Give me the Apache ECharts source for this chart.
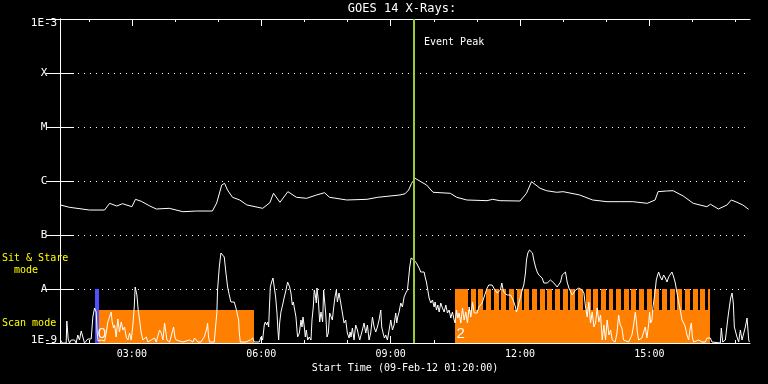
<!DOCTYPE html>
<html>
<head>
<meta charset="utf-8">
<script src="https://cdn.jsdelivr.net/npm/echarts@6/dist/echarts.min.js"></script>
<style>html,body{margin:0;padding:0;background:#000}#c{width:768px;height:384px}</style>
</head>
<body>
<div id="c"></div>
<script>
// ---- time axis: minutes after the start time 01:20:00 on 09-Feb-12 ----
const startClockMinutes = 80;            // 01:20
const xMaxMinutes = 960;                 // 16 hours shown
const hourTicks = [40,100,160,220,280,340,400,460,520,580,640,700,760,820,880,940];
const majorTicks = [100,280,460,640,820];  // 03:00 06:00 09:00 12:00 15:00

// ---- y axis (log flux, W/m^2) ----
const yExponents = [-9,-8,-7,-6,-5,-4,-3];
const yLabelText = ['1E-9','A','B','C','M','X','1E-3'];

// ---- GOES flux curve ----
const goesMinutes = [0.7,13,41,62,69,79,87,100,105,113,125,134,152,171,190,212,218,225,229,233,
  240,250,260,282,292,297,306,317,329,343,357,368,375,399,427,442,473,480,485,489,
  494,510,519,543,552,566,594,602,612,640,649,656,668,677,691,700,723,741,761,779,
  797,817,828,832,844,853,867,881,900,905,916,928,934,942,950,958];
const goesFlux = [3.6e-7,3.26e-7,2.9e-7,2.9e-7,3.86e-7,3.44e-7,3.8e-7,3.34e-7,4.58e-7,4.21e-7,
  3.44e-7,3.03e-7,3.12e-7,2.7e-7,2.78e-7,2.78e-7,3.92e-7,8.43e-7,9.06e-7,6.81e-7,
  4.99e-7,4.45e-7,3.6e-7,3.12e-7,3.97e-7,5.92e-7,4.03e-7,6.34e-7,4.99e-7,4.78e-7,
  5.51e-7,6.07e-7,4.99e-7,4.45e-7,4.58e-7,4.99e-7,5.51e-7,5.8e-7,6.8e-7,9.0e-7,
  1.12e-6,8.43e-7,6.18e-7,5.92e-7,4.99e-7,4.45e-7,4.32e-7,4.58e-7,4.32e-7,4.26e-7,
  5.92e-7,9.71e-7,7.33e-7,6.61e-7,6.18e-7,6.34e-7,5.51e-7,4.45e-7,4.14e-7,4.14e-7,
  4.14e-7,3.86e-7,4.45e-7,6.34e-7,6.53e-7,6.61e-7,5.28e-7,3.86e-7,3.34e-7,3.71e-7,
  3.03e-7,3.6e-7,4.45e-7,4.03e-7,3.6e-7,2.99e-7];

// ---- lower count-rate curve (arbitrary units, [minute, counts]) ----
const lowerCounts = [
[0.7,0.3],[3.0,0],[8.6,0],[9.5,2.2],[10.4,2.2],[11.4,0.4],[13.2,0],[15.5,0.3],[20.2,0.3],[22.5,0],[24.8,0.8],[27.1,0.3],[29.5,1.2],[31.8,0.6],[34.1,0],[38.7,0.4],[43.4,0.4],[45.7,2.6],[48.0,3.5],[50.4,3.1],[51.7,1.0],[53.1,0.2],[57.3,0.3],[62.0,0.2],[64.3,1.0],[66.6,2.1],[68.9,2.6],[71.2,3.1],[72.6,2.1],[74.5,1.5],[75.9,1.8],[78.2,0.6],[80.5,2.4],[82.8,1.1],[85.2,2.1],[87.5,1.3],[89.8,1.6],[92.1,0.6],[94.4,0.3],[96.8,1.0],[99.1,0.3],[101.4,1.8],[103.3,3.6],[104.6,5.6],[107.0,4.8],[108.8,3.3],[110.7,2.3],[113.0,1.0],[115.3,0.3],[117.6,0.3],[120.0,0.6],[122.3,0.1],[126.9,0.3],[131.6,0.5],[133.9,0.1],[138.5,1.3],[140.9,1.0],[143.2,0.3],[145.5,2.0],[146.9,2.1],[148.7,0.3],[152.5,0.1],[158.0,1.6],[159.9,0.6],[161.7,0.3],[171.0,0.1],[180.3,0.3],[184.9,0.1],[187.3,0.5],[191.9,0.1],
[196.0,0.1],[200.7,0.6],[203.0,0.6],[204.4,1.5],[205.3,2.0],[206.7,0.6],[208.1,0.1],[214.6,0.1],[216.9,0.3],[218.3,3.1],[219.2,5.3],[221.6,7.6],[223.9,9.0],[226.2,9.1],[228.5,8.6],[230.9,7.0],[233.2,5.6],[235.5,4.8],[237.8,4.1],[240.1,4.0],[242.4,4.1],[244.8,3.5],[247.1,3.3],[248.5,2.3],[249.4,1.1],[250.8,0.1],[258.7,0.1],[264.7,0.3],[266.6,0.1],[268.0,0.5],[270.3,0.1],[277.3,0.1],[279.6,0.6],[281.9,0.3],[284.2,1.8],[285.6,2.1],[287.5,1.8],[288.9,2.1],[290.3,1.6],[291.2,3.3],[292.6,5.6],[294.4,6.1],[296.3,6.5],[298.1,5.6],[300.0,4.6],[301.9,3.0],[303.2,1.3],[304.2,0.3],[305.6,2.0],[307.4,3.1],[309.7,3.8],[312.1,4.6],[314.4,5.3],[316.7,6.1],[318.1,6.3],[319.5,5.6],[321.3,5.0],[323.2,3.8],[324.6,4.1],[326.0,4.0],[328.3,2.6],[329.7,1.3],[330.6,0.6],[333.0,1.0],[335.3,2.3],[336.7,1.6],[338.1,2.6],[339.9,1.6],[341.3,0.6],[342.7,1.3],[344.6,0.3],[346.9,0.6],[349.2,0.3],[350.6,2.3],[352.4,3.6],[353.8,5.3],[355.2,4.8],[356.6,4.0],[357.5,5.5],[359.4,4.3],[361.3,2.1],[363.1,3.1],[365.4,2.1],[366.8,5.3],[368.2,5.5],[369.6,3.0],[371.5,0.6],[373.3,1.0],[375.2,3.0],[377.0,2.8],[378.9,2.3],[380.7,3.5],[382.6,4.6],[384.5,5.3],
[385.9,4.1],[388.2,5.0],[390.6,4.0],[392.9,3.0],[395.2,2.0],[397.5,2.3],[399.8,1.0],[402.2,0.5],[403.6,1.1],[404.9,0.6],[406.8,1.5],[409.1,0.3],[411.4,1.8],[413.8,1.3],[415.2,0.8],[417.0,0.3],[418.4,0.1],[420.7,1.3],[423.0,2.0],[425.4,1.0],[427.7,1.8],[430.0,0.3],[432.3,1.0],[434.7,2.6],[437.0,1.6],[439.3,1.1],[441.6,1.6],[443.9,2.3],[446.3,3.3],[447.6,1.6],[449.5,1.0],[451.4,0.5],[453.2,0.8],[455.5,0.3],[457.9,1.3],[460.2,2.3],[462.5,1.3],[464.8,1.8],[467.1,3.0],[468.5,2.0],[469.9,2.6],[471.8,3.1],[474.1,4.0],[476.4,3.6],[478.7,4.6],[481.1,5.0],[483.4,5.3],[484.8,6.3],[486.6,7.6],[488.5,8.5],[490.3,8.7],[492.2,8.3],[494.1,8.5],[495.9,8.0],[497.8,7.8],[499.6,7.5],[501.9,7.1],[504.3,7.3],[506.6,7.1],[508.0,6.6],[509.8,6.1],[511.7,5.3],[513.5,4.5],[515.9,4.0],[518.2,4.3],[520.5,3.6],[521.9,4.1],[523.8,3.3],[525.6,3.8],[527.5,3.1],[529.8,4.0],[532.1,3.5],[534.4,3.1],[536.8,3.8],[539.1,3.0],[541.4,3.3],[543.7,2.5],[546.0,3.1],[548.4,2.3],[549.7,2.0],[551.6,3.3],[553.5,2.5],[555.3,3.0],[557.6,2.0],[560.0,3.5],[562.3,2.3],[564.6,3.1],[566.9,2.0],[569.2,3.6],[571.6,2.6],[573.9,4.1],[576.2,3.0],
[578.0,2.8],[580.3,3.0],[582.7,3.6],[585.0,3.8],[587.3,4.0],[589.6,4.5],[591.9,5.0],[594.3,5.5],[596.6,5.8],[598.9,5.6],[601.2,5.8],[603.5,5.5],[605.9,5.6],[608.2,5.0],[610.5,4.8],[612.8,5.3],[614.7,6.0],[616.5,5.3],[618.4,5.0],[620.3,5.1],[622.1,4.8],[624.4,5.0],[626.8,4.8],[629.1,4.5],[631.4,4.1],[633.7,3.6],[635.1,3.1],[637.0,3.6],[638.8,4.1],[640.7,4.6],[643.0,5.3],[645.3,5.8],[647.6,7.0],[649.0,8.3],[650.9,9.0],[653.2,9.3],[655.5,9.5],[657.4,9.0],[659.2,8.3],[661.6,7.6],[663.9,7.1],[666.2,6.8],[668.5,6.6],[670.8,6.5],[673.2,6.0],[675.5,6.1],[677.8,6.0],[680.1,6.1],[682.4,6.3],[684.8,6.1],[687.1,6.0],[689.4,5.8],[691.7,5.6],[694.0,5.8],[696.4,6.1],[698.7,6.8],[701.0,7.0],[703.3,7.1],[705.6,6.1],[708.0,5.5],[710.3,5.3],[712.6,4.8],[714.9,5.0],[717.3,5.3],[719.6,5.1],[721.9,5.5],[724.2,5.3],[726.5,5.3],[728.9,5.0],[731.2,3.6],[733.5,2.6],[735.8,4.1],[738.1,2.0],[740.5,3.1],[742.8,1.6],[745.1,2.0],[747.4,3.5],[749.7,2.1],[752.1,2.8],[754.4,0.3],[756.7,1.8],[759.0,0.3],[761.3,2.3],[763.7,0.8],[766.0,1.3],[768.3,0.3],
[770.2,0.3],[772.5,0.1],[774.9,1.0],[777.2,2.8],[779.5,1.8],[781.8,1.5],[784.1,0.3],[786.5,0.1],[791.1,0.1],[793.4,0.3],[795.7,0.8],[798.1,1.8],[800.4,3.1],[801.8,2.3],[803.2,1.1],[805.0,0.3],[807.3,0.1],[809.7,0.5],[812.0,1.1],[814.3,1.6],[816.6,0.5],[818.9,1.8],[820.3,3.1],[821.7,2.0],[823.6,2.3],[825.0,3.6],[826.4,4.3],[828.2,5.3],[829.6,6.3],[831.5,6.8],[832.9,7.1],[835.2,6.6],[837.5,6.3],[839.8,6.8],[842.2,6.5],[844.5,6.1],[846.8,6.6],[849.1,6.8],[851.4,7.1],[853.8,6.6],[856.1,6.0],[858.4,5.0],[860.7,4.1],[863.0,3.3],[865.4,2.3],[867.7,2.0],[870.0,1.6],[872.3,0.8],[874.6,0.3],[877.0,1.6],[878.4,2.0],[879.8,0.6],[881.6,0.1],[883.9,0.3],[888.6,0.3],[893.2,0.1],[897.9,0.1],[900.2,0.5],[902.5,0.3],[904.8,0.5],[907.1,0.1],[909.5,0],[918.7,0],[920.1,1.5],[922.0,0.1],[925.7,0.3],[928.0,0.1],[929.4,2.6],[931.3,3.6],[933.1,4.5],[935.0,5.0],[936.8,4.0],[938.2,1.6],[939.6,1.5],[941.9,0.6],[944.2,0.1],[946.6,1.3],[948.9,0.3],[951.2,0.1],[953.5,1.6],[955.9,2.5],[958.2,0.3],[959.1,0.1]
];

// ---- observing modes ([start minute, end minute]) ----
const scanLevel = 3.3, stareLevel = 5.4;
const scanIntervals = [[53.6,269.8],[550.2,903.9]];
const stareIntervals = [[550.2,567.8],[571.6,578.4],[582.2,589.1],[592.8,599.7],[603.5,610.4],[614.1,621.0],[624.8,631.7],[635.4,642.3],[646.1,652.9],[656.7,663.6],[667.4,674.2],[678.0,684.9],[688.6,695.5],[699.3,706.2],[709.9,716.8],[720.6,727.5],[731.2,738.1],[741.9,748.7],[752.5,759.4],[763.2,770.0],[773.8,780.7],[784.4,791.3],[795.1,802.0],[805.7,812.6],[816.4,823.2],[827.0,833.9],[837.7,844.5],[848.3,855.2],[858.9,865.8],[869.6,876.5],[880.2,887.1],[890.9,897.8],[901.5,903.9]];
const blueIntervals = [[49.0,53.6]];
const attenMinutes = [52.6, 551.6];
const attenText = ['0','2'];
const eventPeakMinute = 492;

// ---------------------------------------------------------------------
const MONO = '"DejaVu Sans Mono", monospace';
const pad = n => (n < 10 ? '0' : '') + n;
function clock(m) {
  const t = Math.round(startClockMinutes + m);
  return pad(Math.floor(t / 60) % 24) + ':' + pad(t % 60);
}
const yLabelMap = {};
yExponents.forEach((e, i) => { yLabelMap[e] = yLabelText[i]; });

function rectRender(color) {
  return function (params, api) {
    const p0 = api.coord([api.value(0), api.value(2)]);
    const p1 = api.coord([api.value(1), 0]);
    const x0 = Math.round(p0[0]), x1 = Math.round(p1[0]);
    const y0 = Math.round(p0[1]), y1 = Math.round(p1[1]);
    return { type: 'rect', shape: { x: x0, y: y0, width: x1 - x0, height: y1 - y0 },
             style: { fill: color } };
  };
}
const white = '#ffffff';
const chart = echarts.init(document.getElementById('c'));
const xBase = { type: 'value', min: 0, max: xMaxMinutes, splitLine: { show: false } };
const labelFont = { color: white, fontFamily: MONO, fontSize: 11 };
chart.setOption({
  backgroundColor: '#000000',
  animation: false,
  grid: { left: 60, top: 19, width: 690, height: 324 },
  graphic: [
    { type: 'text', x: 402, y: 3, style: { text: 'GOES 14 X-Rays:', fill: white, font: '12px ' + MONO, textAlign: 'center' } },
    { type: 'text', x: 2, y: 253, z: 100, style: { text: 'Sit & Stare', fill: '#ffff00', font: '10px ' + MONO } },
    { type: 'text', x: 14, y: 265, z: 100, style: { text: 'mode', fill: '#ffff00', font: '10px ' + MONO } },
    { type: 'text', x: 2, y: 318, z: 100, style: { text: 'Scan mode', fill: '#ffff00', font: '10px ' + MONO } }
  ],
  xAxis: [
    Object.assign({}, xBase, {
      position: 'bottom',
      axisLine: { show: true, lineStyle: { color: white, width: 1 } },
      axisTick: { show: true, inside: true, length: 7, customValues: majorTicks, lineStyle: { color: white } },
      axisLabel: { show: true, customValues: majorTicks, formatter: v => clock(v), color: white, fontFamily: MONO, fontSize: 10, margin: 6 },
      name: 'Start Time (09-Feb-12 01:20:00)', nameLocation: 'middle', nameGap: 20,
      nameTextStyle: { color: white, fontFamily: MONO, fontSize: 10 }
    }),
    Object.assign({}, xBase, {
      position: 'bottom', axisLine: { show: false },
      axisTick: { show: true, inside: true, length: 3, customValues: hourTicks, lineStyle: { color: white } },
      axisLabel: { show: false }
    }),
    Object.assign({}, xBase, {
      position: 'top',
      axisLine: { show: true, lineStyle: { color: white, width: 1 } },
      axisTick: { show: true, inside: true, length: 7, customValues: majorTicks, lineStyle: { color: white } },
      axisLabel: { show: false }
    }),
    Object.assign({}, xBase, {
      position: 'top', axisLine: { show: false },
      axisTick: { show: true, inside: true, length: 3, customValues: hourTicks, lineStyle: { color: white } },
      axisLabel: { show: false }
    })
  ],
  yAxis: [
    {
      type: 'log', logBase: 10, min: 1e-9, max: 1e-3, splitNumber: 6, position: 'left',
      axisLine: { show: true, lineStyle: { color: white, width: 1 } },
      axisTick: { show: true, inside: true, length: 14, lineStyle: { color: white } },
      axisLabel: { show: true, color: white, fontFamily: MONO, fontSize: 11, align: 'center', margin: 16,
        formatter: v => {
          const e = Math.round(Math.log10(v));
          const t = yLabelMap[e] || '';
          if (e === -3) return '{top|' + t + '}';
          if (e === -9) return '{bot|' + t + '}';
          return t;
        },
        rich: {
          top: Object.assign({ padding: [8, 0, 0, 0] }, labelFont),
          bot: Object.assign({ padding: [0, 0, 6, 0] }, labelFont)
        } },
      splitLine: { show: true, lineStyle: { color: white, width: 1, type: [1, 5] } }
    },
    {
      type: 'log', logBase: 10, min: 1e-9, max: 1e-3, splitNumber: 6, position: 'right',
      axisLine: { show: true, lineStyle: { color: white, width: 1 } },
      axisTick: { show: true, inside: true, length: 14, lineStyle: { color: white } },
      axisLabel: { show: false }, splitLine: { show: false }
    },
    { type: 'value', min: 0, max: 32.4, show: false }
  ],
  series: [
    { type: 'custom', name: 'Scan mode', xAxisIndex: 0, yAxisIndex: 2, z: 1, clip: true,
      data: scanIntervals.map(d => [d[0], d[1], scanLevel]), renderItem: rectRender('#ff8000') },
    { type: 'custom', name: 'Sit & Stare mode', xAxisIndex: 0, yAxisIndex: 2, z: 1, clip: true,
      data: stareIntervals.map(d => [d[0], d[1], stareLevel]), renderItem: rectRender('#ff8000') },
    { type: 'custom', name: 'Calibration', xAxisIndex: 0, yAxisIndex: 2, z: 1, clip: true,
      data: blueIntervals.map(d => [d[0], d[1], stareLevel]), renderItem: rectRender('#5050ff') },
    { type: 'line', name: 'Counts', xAxisIndex: 0, yAxisIndex: 2, z: 3, showSymbol: false, symbol: 'none',
      lineStyle: { color: white, width: 1 }, data: lowerCounts, animation: false },
    { type: 'line', name: 'GOES flux', xAxisIndex: 0, yAxisIndex: 0, z: 3, showSymbol: false, symbol: 'none',
      lineStyle: { color: white, width: 1 }, data: goesMinutes.map((m, i) => [m, goesFlux[i]]) },
    { type: 'custom', name: 'Attenuator', xAxisIndex: 0, yAxisIndex: 2, z: 4,
      data: attenMinutes.map(m => [m, 0]),
      renderItem: function (params, api) {
        const p = api.coord([api.value(0), 0]);
        return { type: 'text', x: p[0], y: p[1] - 2,
          style: { text: attenText[params.dataIndex], fill: white, font: '15px "Liberation Sans Narrow", sans-serif',
                   textAlign: 'left', textVerticalAlign: 'bottom' } };
      } },
    { type: 'custom', name: 'Event Peak', xAxisIndex: 0, yAxisIndex: 0, z: 5,
      data: [[eventPeakMinute, 1e-3]],
      renderItem: function (params, api) {
        const top = api.coord([api.value(0), 1e-3]);
        const bot = api.coord([api.value(0), 1e-9]);
        const x = Math.round(top[0]);
        return { type: 'group', children: [
          { type: 'line', shape: { x1: x, y1: top[1], x2: x, y2: bot[1] },
            style: { stroke: '#9acd32', lineWidth: 2 } },
          { type: 'text', x: x + 10, y: top[1] + 23,
            style: { text: 'Event Peak', fill: white, font: '10px ' + MONO, textAlign: 'left', textVerticalAlign: 'middle' } }
        ] };
      } }
  ]
});
</script>
</body>
</html>
